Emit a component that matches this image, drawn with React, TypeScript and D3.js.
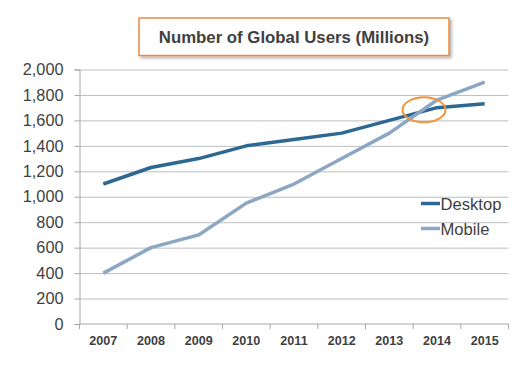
import React, { useEffect, useRef } from 'react';
import * as d3 from 'd3';

const years = ['2007', '2008', '2009', '2010', '2011', '2012', '2013', '2014', '2015'];
const desktopUsers = [1100, 1230, 1300, 1400, 1450, 1500, 1600, 1700, 1730];
const mobileUsers = [400, 600, 700, 950, 1100, 1300, 1500, 1760, 1900];
const yTicks = [0, 200, 400, 600, 800, 1000, 1200, 1400, 1600, 1800, 2000];
const seriesNames = ['Desktop', 'Mobile'];

const WIDTH = 525;
const HEIGHT = 370;

const App = () => {
    const chartRef = useRef<SVGSVGElement | null>(null);

    useEffect(() => {
        const svg = d3.select(chartRef.current);
        svg.selectAll('*').remove();

        const marginLeft = 79.5;
        const marginRight = 16.5;
        const marginTop = 69.5;
        const marginBottom = 46;
        const font = '"Liberation Sans", Arial, sans-serif';

        const x = d3.scaleBand()
            .domain(years)
            .range([marginLeft, WIDTH - marginRight])
            .padding(0);

        const y = d3.scaleLinear()
            .domain([0, 2000])
            .range([HEIGHT - marginBottom, marginTop]);

        const cx = (d: string) => (x(d) as number) + x.bandwidth() / 2;

        // shadow for the title box
        const defs = svg.append('defs');
        const filter = defs.append('filter')
            .attr('id', 'title-shadow')
            .attr('x', '-10%').attr('y', '-30%')
            .attr('width', '120%').attr('height', '160%');
        filter.append('feDropShadow')
            .attr('dx', 2).attr('dy', 2)
            .attr('stdDeviation', 1.5)
            .attr('flood-color', '#000')
            .attr('flood-opacity', 0.3);

        // grid
        const grid = svg.append('g')
            .attr('transform', `translate(${marginLeft},0)`)
            .call(d3.axisLeft(y)
                .tickValues(yTicks.slice(1))
                .tickSize(-(WIDTH - marginLeft - marginRight))
                .tickFormat(() => '')
            );
        grid.select('.domain').remove();
        grid.selectAll('line').attr('stroke', '#bdbdbd').attr('stroke-width', 1);

        // y axis
        const yAxis = svg.append('g')
            .attr('transform', `translate(${marginLeft},0)`)
            .call(d3.axisLeft(y)
                .tickValues(yTicks)
                .tickSize(5)
                .tickPadding(11)
                .tickFormat(d3.format(','))
            );
        yAxis.select('.domain').attr('stroke', '#a6a6a6');
        yAxis.selectAll('line').attr('stroke', '#a6a6a6');
        yAxis.selectAll('text')
            .attr('font-family', font)
            .attr('font-size', 16.3)
            .attr('fill', '#3f3f3f');

        // x axis
        const xBase = HEIGHT - marginBottom;
        const xAxis = svg.append('g')
            .attr('transform', `translate(0,${xBase})`);
        xAxis.append('line')
            .attr('x1', marginLeft).attr('x2', WIDTH - marginRight)
            .attr('stroke', '#a6a6a6');
        const bounds = years.map(d => x(d) as number).concat([WIDTH - marginRight]);
        xAxis.selectAll('.xtick')
            .data(bounds)
            .join('line')
            .attr('class', 'xtick')
            .attr('x1', d => d).attr('x2', d => d)
            .attr('y1', 0).attr('y2', 5)
            .attr('stroke', '#a6a6a6');
        xAxis.selectAll('.xlabel')
            .data(years)
            .join('text')
            .attr('class', 'xlabel')
            .attr('x', d => cx(d))
            .attr('y', 21)
            .attr('text-anchor', 'middle')
            .attr('font-family', font)
            .attr('font-size', 12.6)
            .attr('font-weight', 'bold')
            .attr('fill', '#3f3f3f')
            .text(d => d);

        // lines (desktop first, mobile drawn on top)
        const colors = ['#2c6891', '#8ba7c3'];
        const line = d3.line<number>()
            .x((_, i) => cx(years[i]))
            .y(d => y(d));

        [desktopUsers, mobileUsers].forEach((values, k) => {
            svg.append('path')
                .datum(values)
                .attr('fill', 'none')
                .attr('stroke', colors[k])
                .attr('stroke-width', 3.5)
                .attr('stroke-linejoin', 'round')
                .attr('d', line);
        });

        // orange highlight around crossover
        svg.append('ellipse')
            .attr('cx', cx('2014') - 13)
            .attr('cy', y(1683))
            .attr('rx', 21.5)
            .attr('ry', 12.5)
            .attr('fill', 'none')
            .attr('stroke', '#f2923a')
            .attr('stroke-width', 2);

        // legend
        const legend = svg.append('g').attr('transform', 'translate(421,203.5)');
        seriesNames.forEach((name, i) => {
            const g = legend.append('g').attr('transform', `translate(0,${i * 25})`);
            g.append('line')
                .attr('x1', 0).attr('x2', 19)
                .attr('stroke', colors[i])
                .attr('stroke-width', 3.5);
            g.append('text')
                .attr('x', 19.5)
                .attr('y', 6)
                .attr('font-family', font)
                .attr('font-size', 16.6)
                .attr('fill', '#3f3f3f')
                .text(name);
        });

        // title box
        const title = svg.append('g');
        title.append('rect')
            .attr('x', 139).attr('y', 18)
            .attr('width', 310).attr('height', 37.5)
            .attr('fill', '#fff')
            .attr('stroke', '#f0883a')
            .attr('stroke-width', 1.5)
            .attr('filter', 'url(#title-shadow)');
        title.append('text')
            .attr('x', 294)
            .attr('y', 43)
            .attr('text-anchor', 'middle')
            .attr('font-family', font)
            .attr('font-size', 16.8)
            .attr('font-weight', 'bold')
            .attr('fill', '#404040')
            .text('Number of Global Users (Millions)');
    }, []);

    return (
        <svg
            ref={chartRef}
            width={WIDTH}
            height={HEIGHT}
            style={{ position: 'absolute', left: 0, top: 0, background: '#fff' }}
        />
    );
};

export default App;
